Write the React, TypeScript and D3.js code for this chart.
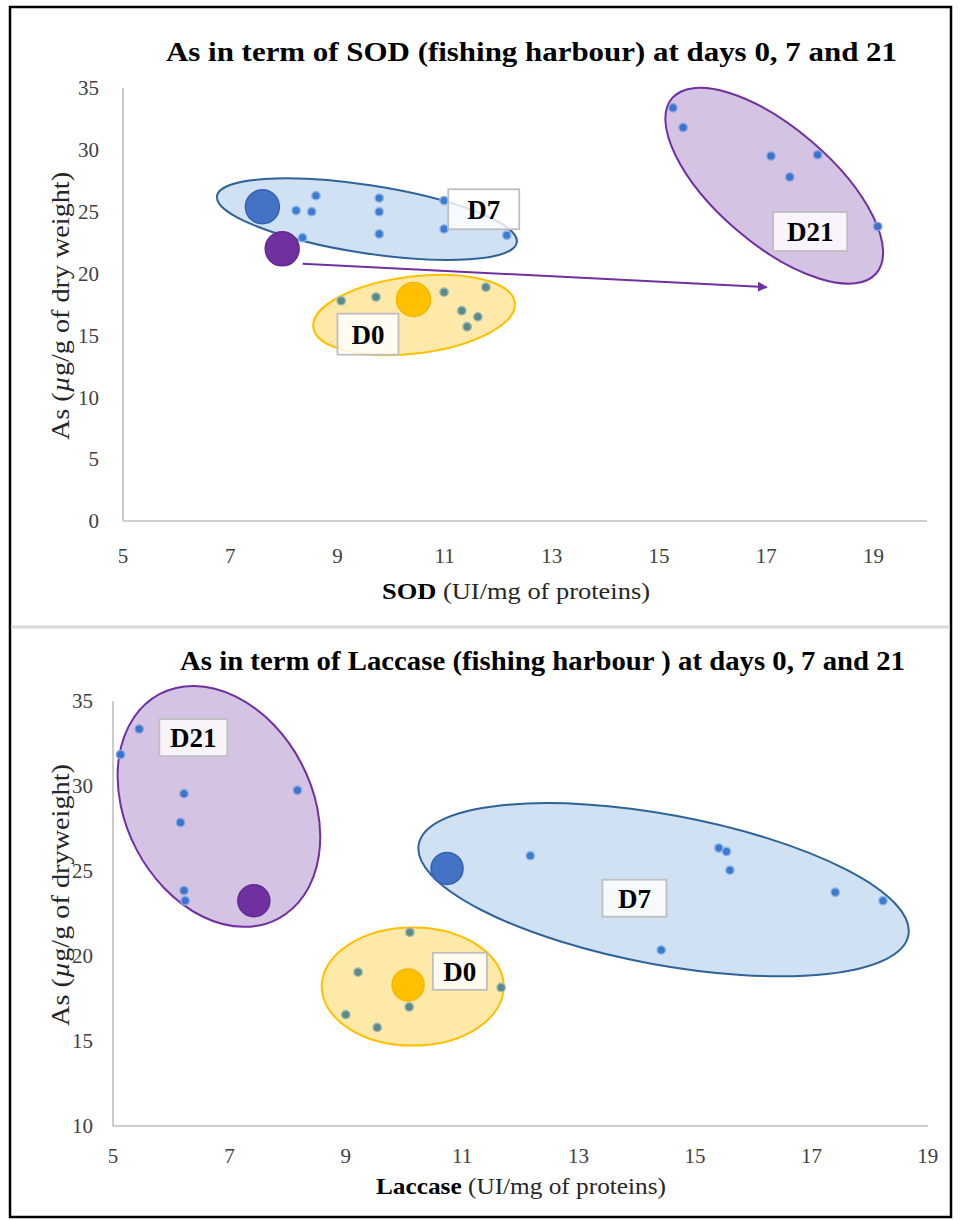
import React from 'react';
import * as d3 from 'd3';

const W = 961;
const H = 1220;
const FONT = 'Liberation Serif, Times New Roman, Times, serif';

// ---------- Top chart: As vs SOD ----------
const sodTitle = 'As in term of SOD (fishing harbour) at days 0, 7 and 21';
const sodXLabelBold = 'SOD';
const sodXLabelRest = ' (UI/mg of proteins)';
const sodYTicks = [0, 5, 10, 15, 20, 25, 30, 35];
const xTickValues = [5, 7, 9, 11, 13, 15, 17, 19];

const sodD0X = [9.07, 9.72, 10.99, 11.77, 11.32, 11.62, 11.42];
const sodD0Y = [17.8, 18.1, 18.5, 18.9, 17.0, 16.5, 15.7];
const sodD7X = [8.6, 8.23, 8.52, 8.35, 9.78, 9.78, 9.78, 10.99, 10.99, 12.16];
const sodD7Y = [26.3, 25.1, 25.0, 22.9, 26.1, 25.0, 23.2, 25.9, 23.6, 23.1];
const sodD21X = [15.26, 15.45, 17.09, 17.96, 17.44, 19.08];
const sodD21Y = [33.4, 31.8, 29.5, 29.6, 27.8, 23.8];
const sodMeanGroups = ['D7', 'D21', 'D0'];
const sodMeanX = [7.6, 7.97, 10.42];
const sodMeanY = [25.4, 22.0, 17.9];
const sodArrowX = [8.35, 17.01];
const sodArrowY = [20.8, 18.9];

// ---------- Bottom chart: As vs Laccase ----------
const lacTitle = 'As in term of Laccase (fishing harbour ) at days 0, 7 and 21';
const lacXLabelBold = 'Laccase';
const lacXLabelRest = ' (UI/mg of proteins)';
const lacYTicks = [10, 15, 20, 25, 30, 35];

const lacD0X = [10.1, 11.67, 10.09, 9.21, 9.0, 9.54];
const lacD0Y = [21.4, 18.15, 17.0, 19.05, 16.55, 15.8];
const lacD7X = [12.17, 15.41, 15.54, 15.6, 17.41, 18.23, 14.42];
const lacD7Y = [25.9, 26.35, 26.15, 25.05, 23.75, 23.25, 20.35];
const lacD21X = [5.45, 5.13, 6.22, 8.17, 6.16, 6.22, 6.24];
const lacD21Y = [33.35, 31.85, 29.55, 29.75, 27.85, 23.85, 23.25];
const lacMeanGroups = ['D7', 'D21', 'D0'];
const lacMeanX = [10.74, 7.42, 10.07];
const lacMeanY = [25.15, 23.25, 18.3];

// group annotation ellipses: center in data units, radii px, angle deg
const sodEllG = ['D21', 'D7', 'D0'];
const sodEllCX = [17.15, 9.55, 10.43];
const sodEllCY = [27.1, 24.4, 16.65];
const sodEllRX = [134.5, 151.7, 101.5];
const sodEllRY = [58, 34, 38.5];
const sodEllA = [40.6, 8.8, -7];
const sodLabG = ['D7', 'D0', 'D21'];
const sodLabX = [11.73, 9.57, 17.82];
const sodLabY = [25.2, 15.1, 23.4];
const sodLabW = [71, 61, 74];
const sodLabH = [40, 41, 39];

const lacEllG = ['D21', 'D7', 'D0'];
const lacEllCX = [6.82, 14.46, 10.15];
const lacEllCY = [28.8, 23.9, 18.2];
const lacEllRX = [127, 249, 91];
const lacEllRY = [93, 75, 59];
const lacEllA = [62.3, 10.5, 0];
const lacLabG = ['D21', 'D7', 'D0'];
const lacLabX = [6.38, 13.96, 10.96];
const lacLabY = [32.85, 23.4, 19.1];
const lacLabW = [68, 64, 54];
const lacLabH = [37, 37, 37];

const ELL_FILL: Record<string, string> = { D0: '#fee9a9', D7: '#cfe1f3', D21: '#d5c3e3' };
const ELL_STROKE: Record<string, string> = { D0: '#ffc000', D7: '#2f6398', D21: '#7030a0' };
const MEAN_FILL: Record<string, string> = { D0: '#ffc000', D7: '#4472c4', D21: '#7030a0' };
const MEAN_STROKE: Record<string, string> = { D0: '#f5b800', D7: '#3461b5', D21: '#632a92' };
const DOT_FILL: Record<string, string> = { D0: '#5c8a8c', D7: '#3b7bd3', D21: '#3b74cf' };
const DOT_STROKE: Record<string, string> = { D0: '#9cb9ae', D7: '#8fb6e6', D21: '#8ea6e0' };

type PanelProps = {
  title: string;
  titleY: number;
  titleX0: number;
  titleX1: number;
  xBold: string;
  xRest: string;
  xTitleCx: number;
  xTitleLen: number;
  xTitleY: number;
  yTitleCy: number;
  yTitleLen: number;
  yTitleText: string;
  x: d3.ScaleLinear<number, number>;
  y: d3.ScaleLinear<number, number>;
  yTicks: number[];
  xTickY: number;
  yTickGap: number;
  groups: { g: string; xs: number[]; ys: number[] }[];
  meanG: string[];
  meanX: number[];
  meanY: number[];
  ellG: string[];
  ellCX: number[];
  ellCY: number[];
  ellRX: number[];
  ellRY: number[];
  ellA: number[];
  labG: string[];
  labX: number[];
  labY: number[];
  labW: number[];
  labH: number[];
  arrow?: { xs: number[]; ys: number[] };
  meanR: number;
};

const serif = { fontFamily: FONT };

function Panel(p: PanelProps) {
  const [x0, x1] = p.x.range();
  const [yb, yt] = p.y.range();
  const axisColor = '#bfbfbf';
  return (
    <g>
      <text
        x={(p.titleX0 + p.titleX1) / 2}
        y={p.titleY}
        textAnchor="middle"
        style={serif}
        fontWeight="bold"
        fontSize={28}
        textLength={p.titleX1 - p.titleX0}
        lengthAdjust="spacingAndGlyphs"
        fill="#000"
      >
        {p.title}
      </text>
      {/* axes */}
      <line x1={x0} x2={x0} y1={yt} y2={yb} stroke={axisColor} strokeWidth={1.6} />
      <line x1={x0} x2={x1} y1={yb} y2={yb} stroke={axisColor} strokeWidth={1.6} />
      {p.yTicks.map((t) => (
        <text
          key={'yt' + t}
          x={x0 - p.yTickGap}
          y={p.y(t)}
          dy="0.35em"
          textAnchor="end"
          style={serif}
          fontSize={21}
          fill="#404040"
        >
          {t}
        </text>
      ))}
      {xTickValues.map((t) => (
        <text
          key={'xt' + t}
          x={p.x(t)}
          y={p.xTickY}
          textAnchor="middle"
          style={serif}
          fontSize={21}
          fill="#404040"
        >
          {t}
        </text>
      ))}
      <text
        x={p.xTitleCx}
        y={p.xTitleY}
        textAnchor="middle"
        style={serif}
        fontSize={24}
        fill="#262626"
        textLength={p.xTitleLen}
        lengthAdjust="spacingAndGlyphs"
      >
        <tspan fontWeight="bold" fill="#000">{p.xBold}</tspan>
        <tspan>{p.xRest}</tspan>
      </text>
      <text
        transform={`translate(${60},${p.yTitleCy}) rotate(-90)`}
        textAnchor="middle"
        dy="0.35em"
        style={serif}
        fontSize={25}
        fill="#262626"
        textLength={p.yTitleLen}
        lengthAdjust="spacingAndGlyphs"
      >
        <tspan>As (</tspan>
        <tspan fontStyle="italic">µ</tspan>
        <tspan>{p.yTitleText}</tspan>
      </text>
      {/* ellipses */}
      {p.ellG.map((g, i) => (
        <ellipse
          key={'el' + g}
          cx={0}
          cy={0}
          rx={p.ellRX[i]}
          ry={p.ellRY[i]}
          transform={`translate(${p.x(p.ellCX[i])},${p.y(p.ellCY[i])}) rotate(${p.ellA[i]})`}
          fill={ELL_FILL[g]}
          stroke={ELL_STROKE[g]}
          strokeWidth={2}
        />
      ))}
      {/* small dots */}
      {p.groups.map((grp) =>
        grp.xs.map((vx, i) => (
          <circle
            key={grp.g + 'd' + i}
            cx={p.x(vx)}
            cy={p.y(grp.ys[i])}
            r={4.2}
            fill={DOT_FILL[grp.g]}
            stroke={DOT_STROKE[grp.g]}
            strokeWidth={1.4}
          />
        ))
      )}
      {/* arrow */}
      {p.arrow && (
        <line
          x1={p.x(p.arrow.xs[0])}
          y1={p.y(p.arrow.ys[0])}
          x2={p.x(p.arrow.xs[1])}
          y2={p.y(p.arrow.ys[1])}
          stroke="#7030a0"
          strokeWidth={2}
          markerEnd="url(#arrowHead)"
        />
      )}
      {/* mean dots */}
      {p.meanG.map((g, i) => (
        <circle
          key={'m' + g}
          cx={p.x(p.meanX[i])}
          cy={p.y(p.meanY[i])}
          r={p.meanR}
          fill={MEAN_FILL[g]}
          stroke={MEAN_STROKE[g]}
          strokeWidth={1.5}
        />
      ))}
      {/* labels */}
      {p.labG.map((g, i) => {
        const cx = p.x(p.labX[i]);
        const cy = p.y(p.labY[i]);
        return (
          <g key={'lab' + g}>
            <rect
              x={cx - p.labW[i] / 2}
              y={cy - p.labH[i] / 2}
              width={p.labW[i]}
              height={p.labH[i]}
              fill="#ffffff"
              fillOpacity={0.82}
              stroke="#bfbfbf"
              strokeWidth={1.8}
            />
            <text
              x={cx}
              y={cy}
              dy="0.36em"
              textAnchor="middle"
              style={serif}
              fontWeight="bold"
              fontSize={27}
              fill="#000"
            >
              {g}
            </text>
          </g>
        );
      })}
    </g>
  );
}

export default function App() {
  const xTop = d3.scaleLinear().domain([5, 20]).range([123, 927]);
  const yTop = d3.scaleLinear().domain([0, 35]).range([521, 88]);
  const xBot = d3.scaleLinear().domain([5, 19]).range([113, 927.8]);
  const yBot = d3.scaleLinear().domain([10, 35]).range([1126, 701]);

  return (
    <svg
      width={W}
      height={H}
      viewBox={`0 0 ${W} ${H}`}
      style={{ position: 'absolute', left: 0, top: 0, background: '#fff' }}
    >
      <defs>
        <marker id="arrowHead" viewBox="0 0 10 10" refX="9" refY="5" markerWidth="5" markerHeight="5" orient="auto">
          <path d="M0,0 L10,5 L0,10 z" fill="#7030a0" />
        </marker>
      </defs>
      <rect x={0} y={0} width={W} height={H} fill="#fff" />
      <rect x={10} y={7} width={941} height={1210} fill="none" stroke="#000" strokeWidth={2.5} />
      <line x1={11} x2={950} y1={627} y2={627} stroke="#d9d9d9" strokeWidth={3} />
      <Panel
        title={sodTitle}
        titleY={61}
        titleX0={166}
        titleX1={897}
        xBold={sodXLabelBold}
        xRest={sodXLabelRest}
        xTitleCx={516}
        xTitleLen={268}
        xTitleY={599}
        yTitleCy={306}
        yTitleLen={268}
        yTitleText={'g/g of dry weight)'}
        x={xTop}
        y={yTop}
        yTicks={sodYTicks}
        xTickY={563}
        yTickGap={24}
        groups={[
          { g: 'D0', xs: sodD0X, ys: sodD0Y },
          { g: 'D7', xs: sodD7X, ys: sodD7Y },
          { g: 'D21', xs: sodD21X, ys: sodD21Y },
        ]}
        meanG={sodMeanGroups}
        meanX={sodMeanX}
        meanY={sodMeanY}
        ellG={sodEllG}
        ellCX={sodEllCX}
        ellCY={sodEllCY}
        ellRX={sodEllRX}
        ellRY={sodEllRY}
        ellA={sodEllA}
        labG={sodLabG}
        labX={sodLabX}
        labY={sodLabY}
        labW={sodLabW}
        labH={sodLabH}
        arrow={{ xs: sodArrowX, ys: sodArrowY }}
        meanR={17}
      />
      <Panel
        title={lacTitle}
        titleY={670}
        titleX0={180}
        titleX1={905}
        xBold={lacXLabelBold}
        xRest={lacXLabelRest}
        xTitleCx={521}
        xTitleLen={290}
        xTitleY={1194}
        yTitleCy={895}
        yTitleLen={262}
        yTitleText={'g/g of dryweight)'}
        x={xBot}
        y={yBot}
        yTicks={lacYTicks}
        xTickY={1163}
        yTickGap={20}
        groups={[
          { g: 'D0', xs: lacD0X, ys: lacD0Y },
          { g: 'D7', xs: lacD7X, ys: lacD7Y },
          { g: 'D21', xs: lacD21X, ys: lacD21Y },
        ]}
        meanG={lacMeanGroups}
        meanX={lacMeanX}
        meanY={lacMeanY}
        ellG={lacEllG}
        ellCX={lacEllCX}
        ellCY={lacEllCY}
        ellRX={lacEllRX}
        ellRY={lacEllRY}
        ellA={lacEllA}
        labG={lacLabG}
        labX={lacLabX}
        labY={lacLabY}
        labW={lacLabW}
        labH={lacLabH}
        meanR={16}
      />
    </svg>
  );
}
